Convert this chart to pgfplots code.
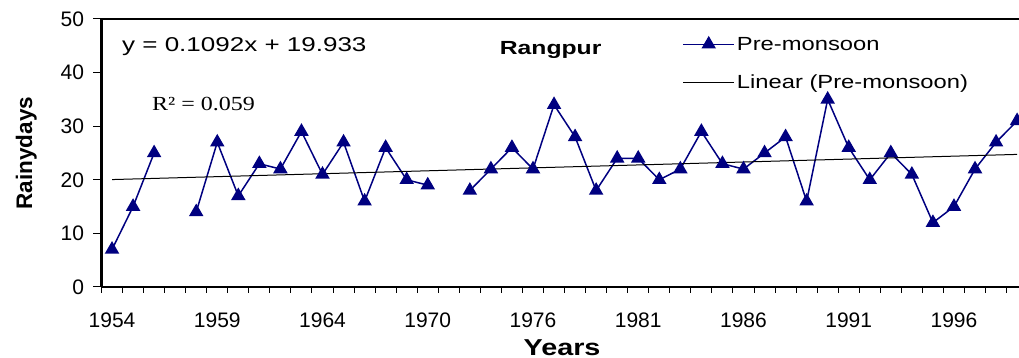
\documentclass[border=0pt]{standalone}
\usepackage{fontspec}
\setmainfont{Liberation Sans}
\newfontfamily\lbl{Liberation Sans}[FakeStretch=1.25]
\newfontfamily\eqf{Liberation Sans}[FakeStretch=1.3]
\newfontfamily\rsq{Liberation Serif}[FakeStretch=1.2]
\usepackage{pgfplots}
\usepackage{pgfplotstable}
\pgfplotsset{compat=1.18}
\definecolor{navy}{RGB}{0,0,128}

\pgfplotstableread{
i v
0 7
1 15
2 25
3 nan
4 14
5 27
6 17
7 23
8 22
9 29
10 21
11 27
12 16
13 26
14 20
15 19
16 nan
17 18
18 22
19 26
20 22
21 34
22 28
23 18
24 24
25 24
26 20
27 22
28 29
29 23
30 22
31 25
32 28
33 16
34 35
35 26
36 20
37 25
38 21
39 12
40 15
41 22
42 27
43 31
}\premonsoon

\begin{document}
\begin{tikzpicture}
\begin{axis}[
  scale only axis,
  width=917.5pt, height=268pt,
  xmin=-0.5, xmax=43.09,
  ymin=0, ymax=50,
  axis x line*=box, axis y line*=left,
  axis line style={-, line width=2.5pt},
  every outer x axis line/.append style={-},
  every outer y axis line/.append style={-},
  xtick={0,5,...,40},
  xticklabels={1954,1959,1964,1970,1976,1981,1986,1991,1996},
  minor xtick={-0.5,0.5,...,43.5},
  ytick={0,10,...,50},
  tick align=outside,
  xtick pos=bottom, ytick pos=left,
  major x tick style={draw=none},
  major tick length=8pt,
  minor tick length=6pt,
  tick style={line width=1pt, black},
  /pgf/number format/assume math mode=true,
  tick label style={font=\fontsize{21}{21}\selectfont},
  xticklabel style={yshift=-14pt},
  yticklabel style={xshift=-6pt},
  xlabel={Years},
  xlabel style={at={(axis description cs:0.502,-0.254)}, anchor=base, inner sep=0pt, font=\lbl\bfseries\fontsize{23}{23}\selectfont},
  ylabel={Rainydays},
  ylabel style={at={(axis description cs:-0.0703,0.5)}, anchor=south, inner sep=0pt, font=\bfseries\fontsize{22.5}{22.5}\selectfont},
  legend cell align=left,
  legend style={at={(rel axis cs:0.633,0.941)}, anchor=north west, draw=none, fill=none, inner sep=0pt, row sep=19pt, font=\lbl\fontsize{19}{19}\selectfont},
  legend image code/.code={\draw[mark repeat=2,mark phase=2,#1] plot coordinates {(0pt,0pt) (25.5pt,0pt) (51pt,0pt)};},
  unbounded coords=jump,
]
\addplot[navy, line width=1.5pt, mark=triangle*, mark size=6.9pt, mark options={fill=navy, solid}] table[x=i,y=v]{\premonsoon};
\addlegendentry{Pre-monsoon}
\addplot[black, line width=1pt] coordinates {(0,20.042) (43,24.738)};
\addlegendentry{Linear (Pre-monsoon)}
\node[anchor=base west, inner sep=0pt, font=\eqf\fontsize{20}{20}\selectfont] at (rel axis cs:0.0223,0.877) {y = 0.1092x + 19.933};
\node[anchor=base west, inner sep=0pt, font=\rsq\fontsize{20}{20}\selectfont] at (rel axis cs:0.055,0.660) {R² = 0.059};
\node[anchor=base west, inner sep=0pt, font=\eqf\bfseries\fontsize{19}{19}\selectfont] at (rel axis cs:0.434,0.866) {Rangpur};
\coordinate (sw) at (rel axis cs:0,0);
\coordinate (ne) at (rel axis cs:1,1);
\end{axis}
\pgfresetboundingbox
\path[use as bounding box] ([shift={(-101.5pt,-71pt)}]sw) rectangle ([shift={(0pt,19pt)}]ne);
\end{tikzpicture}
\end{document}
